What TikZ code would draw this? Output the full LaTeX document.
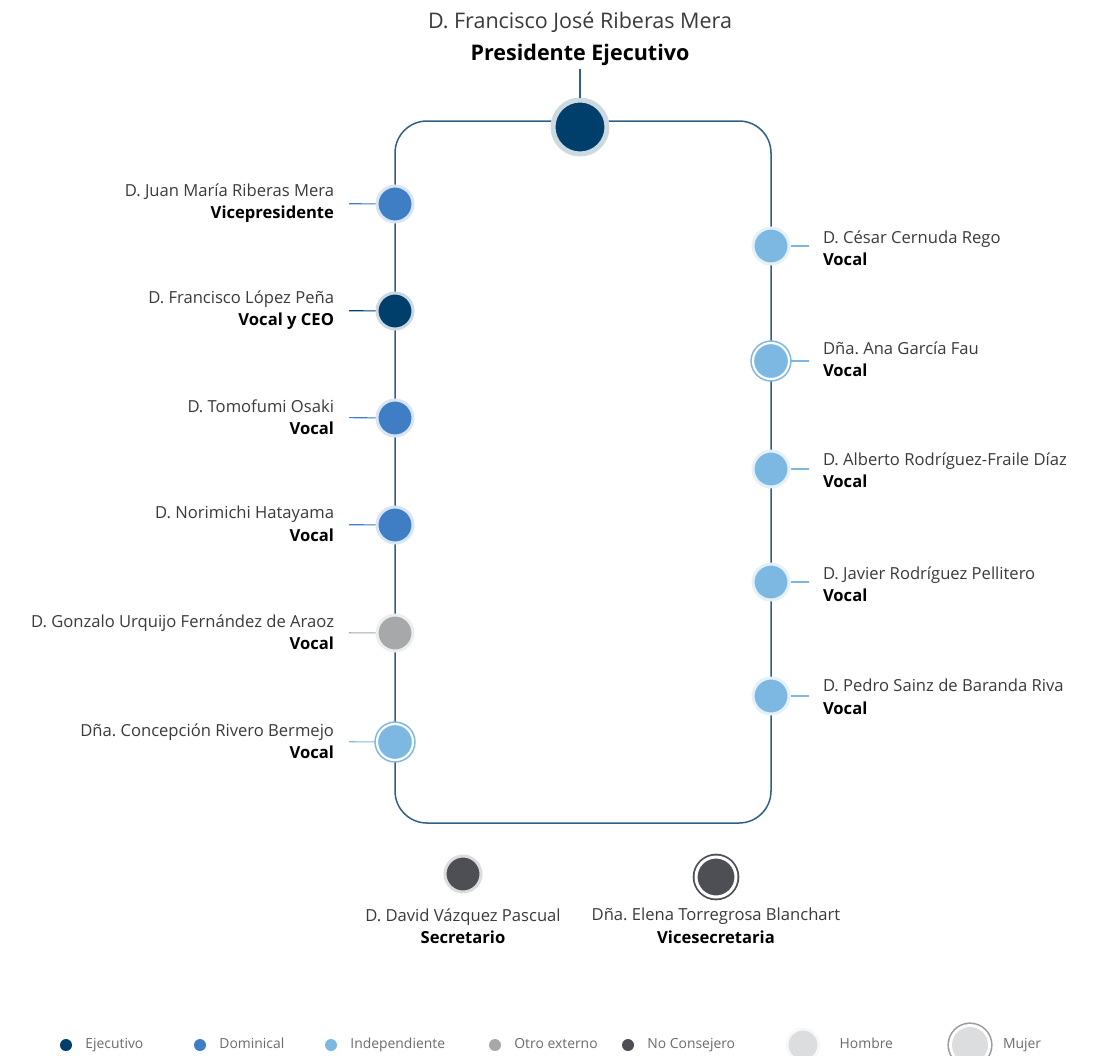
\documentclass[tikz,border=0pt]{standalone}
\usepackage{fontspec}
\setmainfont{Open Sans}
\usetikzlibrary{positioning,calc}
\definecolor{ejec}{HTML}{003F6B}
\definecolor{domin}{HTML}{3F7DC5}
\definecolor{indep}{HTML}{7DB8E3}
\definecolor{otro}{HTML}{A7A8AA}
\definecolor{nocons}{HTML}{4D4F54}
\definecolor{frameblue}{HTML}{2F5F86}
\definecolor{txt}{HTML}{3A3A3A}
\definecolor{legtxt}{HTML}{6B6B6B}
\definecolor{sexo}{HTML}{DCDDDF}
\definecolor{ringgray}{HTML}{9C9C9C}
\frenchspacing

\begin{document}
\begin{tikzpicture}[x=1pt, y=-1pt,
  hombre/.style={circle, inner sep=0, minimum size=36pt, fill=#1, draw=#1!20!white, line width=3pt},
  mujer/.style={circle, inner sep=0, minimum size=36pt, fill=#1, draw=#1, line width=1.6pt, double=white, double distance=2.2pt},
  lblL/.style={anchor=east, align=right, inner sep=0, outer xsep=15pt, text=txt, font=\fontsize{16.6}{22.5}\selectfont},
  lblR/.style={anchor=west, align=left, inner sep=0, outer xsep=14pt, text=txt, font=\fontsize{16.6}{22.5}\selectfont},
  lblB/.style={align=center, inner sep=0, text=txt, font=\fontsize{16.6}{22.5}\selectfont},
  link/.style={draw=#1, line width=1.1pt},
  dot/.style={circle, inner sep=0, minimum size=12pt, fill=#1},
  legT/.style={inner sep=0, text height=10pt, text depth=3pt, text=legtxt, font=\fontsize{13.9}{16}\selectfont}]
  \useasboundingbox (0,0) rectangle (1094,1055);
  % marco del consejo
  \coordinate (tl) at (395,121);
  \coordinate (br) at (771,823);
  \draw[frameblue, line width=1.5pt, rounded corners=32pt] (tl) rectangle (br);
  % presidente
  \node[hombre=ejec, minimum size=54pt, line width=5pt] (fjr) at (580,127) {};
  \node[align=center, inner sep=3pt, text=txt, font=\fontsize{21.5}{32}\selectfont] (fjrT) at (580,39) {D. Francisco José Riberas Mera\\\textbf{\color{black}Presidente Ejecutivo}};
  \draw[link=frameblue] (fjrT) -- (fjr);
  % columna izquierda
  \node[hombre=domin] (jmr) at (395,204) {};
  \node[lblL] (jmrT) at (349,203) {D. Juan María Riberas Mera\\\textbf{\color{black}Vicepresidente}};
  \node[hombre=ejec] (flp) at (395,311) {};
  \node[lblL] (flpT) at (349,310) {D. Francisco López Peña\\\textbf{\color{black}Vocal y CEO}};
  \node[hombre=domin] (tos) at (395,418) {};
  \node[lblL] (tosT) at (349,417) {D. Tomofumi Osaki\\\textbf{\color{black}Vocal}};
  \node[hombre=domin] (nha) at (395,525) {};
  \node[lblL] (nhaT) at (349,524) {D. Norimichi Hatayama\\\textbf{\color{black}Vocal}};
  \node[hombre=otro] (guf) at (395,633) {};
  \node[lblL] (gufT) at (349,632) {D. Gonzalo Urquijo Fernández de Araoz\\\textbf{\color{black}Vocal}};
  \node[mujer=indep] (crb) at (395,742) {};
  \node[lblL] (crbT) at (349,741) {Dña. Concepción Rivero Bermejo\\\textbf{\color{black}Vocal}};
  \draw[link=domin] (jmrT) -- (jmr);
  \draw[link=ejec] (flpT) -- (flp);
  \draw[link=domin] (tosT) -- (tos);
  \draw[link=domin] (nhaT) -- (nha);
  \draw[link=otro] (gufT) -- (guf);
  \draw[link=indep] (crbT) -- (crb);
  % columna derecha
  \node[hombre=indep] (ccr) at (771,246) {};
  \node[lblR] (ccrT) at (809,248) {D. César Cernuda Rego\\\textbf{\color{black}Vocal}};
  \node[mujer=indep] (agf) at (771,361) {};
  \node[lblR] (agfT) at (809,359) {Dña. Ana García Fau\\\textbf{\color{black}Vocal}};
  \node[hombre=indep] (arf) at (771,469) {};
  \node[lblR] (arfT) at (809,470) {D. Alberto Rodríguez-Fraile Díaz\\\textbf{\color{black}Vocal}};
  \node[hombre=indep] (jrp) at (771,582) {};
  \node[lblR] (jrpT) at (809,584) {D. Javier Rodríguez Pellitero\\\textbf{\color{black}Vocal}};
  \node[hombre=indep] (psb) at (771,696) {};
  \node[lblR] (psbT) at (809,697) {D. Pedro Sainz de Baranda Riva\\\textbf{\color{black}Vocal}};
  \draw[link=indep] (ccr) -- (ccr -| ccrT.west);
  \draw[link=indep] (agf) -- (agf -| agfT.west);
  \draw[link=indep] (arf) -- (arf -| arfT.west);
  \draw[link=indep] (jrp) -- (jrp -| jrpT.west);
  \draw[link=indep] (psb) -- (psb -| psbT.west);
  % secretaria
  \node[hombre=nocons] (dvp) at (463,874) {};
  \node[lblB] (dvpT) at (463,926) {D. David Vázquez Pascual\\\textbf{\color{black}Secretario}};
  \node[mujer=nocons, minimum size=40pt, line width=1.8pt, double distance=3pt] (etb) at (716,877) {};
  \node[lblB] (etbT) at (716,926) {Dña. Elena Torregrosa Blanchart\\\textbf{\color{black}Vicesecretaria}};
  % leyenda
  \foreach \x/\c/\t [count=\i] in {66/ejec/Ejecutivo, 200/domin/Dominical, 331/indep/Independiente, 495/otro/Otro externo, 628/nocons/No Consejero} {
    \node[dot=\c] (leg\i) at (\x,1045) {};
    \node[legT, anchor=west, right=13pt of leg\i] {\t};
  }
  \node[hombre=sexo, minimum size=32pt] (legH) at (803,1045) {};
  \node[legT, anchor=west, right=19pt of legH] {Hombre};
  \node[mujer=sexo, draw=ringgray, minimum size=36pt, line width=1.6pt, double distance=6pt, postaction={fill=sexo, draw=none}] (legM) at (970,1045) {};
  \node[legT, anchor=west, right=14pt of legM] {Mujer};
\end{tikzpicture}
\end{document}
